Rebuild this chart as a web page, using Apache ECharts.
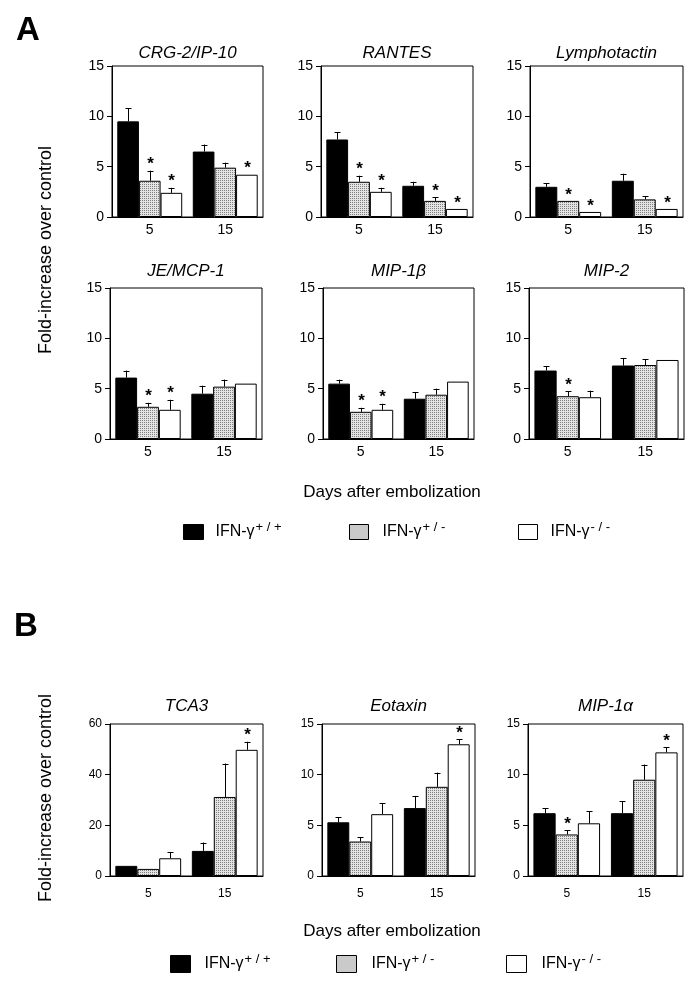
<!DOCTYPE html>
<html>
<head>
<meta charset="utf-8">
<script src="https://cdn.jsdelivr.net/npm/echarts@6/dist/echarts.min.js"></script>
<style>
html,body{margin:0;padding:0;background:#fff;}
#c{width:698px;height:988px;}
</style>
</head>
<body>
<div id="c"></div>
<script>
// ---------------- data ----------------
const days = ['5', '15'];
const genotypes = ['IFN-γ+/+', 'IFN-γ+/-', 'IFN-γ-/-'];
const titles = ['CRG-2/IP-10', 'RANTES', 'Lymphotactin', 'JE/MCP-1', 'MIP-1β', 'MIP-2', 'TCA3', 'Eotaxin', 'MIP-1α'];
const yTicksA = [0, 5, 10, 15];
const yTicksTCA3 = [0, 20, 40, 60];

// means: [genotype][day]
const crgMean   = [[9.5, 6.5], [3.6, 4.9], [2.4, 4.2]];
const crgErr    = [[1.3, 0.7], [1.0, 0.5], [0.5, 0]];
const crgStar   = [[0, 0], [1, 0], [1, 1]];

const rantesMean = [[7.7, 3.1], [3.5, 1.6], [2.5, 0.8]];
const rantesErr  = [[0.7, 0.4], [0.6, 0.35], [0.4, 0]];
const rantesStar = [[0, 0], [1, 1], [1, 1]];

const lymphoMean = [[3.0, 3.6], [1.6, 1.75], [0.5, 0.8]];
const lymphoErr  = [[0.35, 0.7], [0, 0.3], [0, 0]];
const lymphoStar = [[0, 0], [1, 0], [1, 1]];

const jeMean = [[6.1, 4.5], [3.2, 5.2], [2.9, 5.5]];
const jeErr  = [[0.7, 0.8], [0.4, 0.7], [1.0, 0]];
const jeStar = [[0, 0], [1, 0], [1, 0]];

const mip1bMean = [[5.5, 4.0], [2.7, 4.4], [2.9, 5.7]];
const mip1bErr  = [[0.4, 0.65], [0.4, 0.6], [0.6, 0]];
const mip1bStar = [[0, 0], [1, 0], [1, 0]];

const mip2Mean = [[6.8, 7.3], [4.25, 7.35], [4.15, 7.85]];
const mip2Err  = [[0.45, 0.75], [0.5, 0.55], [0.65, 0]];
const mip2Star = [[0, 0], [1, 0], [0, 0]];

const tca3Mean = [[4.0, 9.9], [2.8, 31.2], [7.0, 49.8]];
const tca3Err  = [[0, 3.3], [0, 13.2], [2.3, 3.2]];
const tca3Star = [[0, 0], [0, 0], [0, 1]];

const eotaxinMean = [[5.3, 6.7], [3.4, 8.8], [6.1, 13.0]];
const eotaxinErr  = [[0.5, 1.2], [0.45, 1.4], [1.1, 0.5]];
const eotaxinStar = [[0, 0], [0, 0], [0, 1]];

const mip1aMean = [[6.2, 6.2], [4.1, 9.5], [5.2, 12.2]];
const mip1aErr  = [[0.5, 1.2], [0.4, 1.5], [1.2, 0.5]];
const mip1aStar = [[0, 0], [1, 0], [0, 1]];

const panelMeans = [crgMean, rantesMean, lymphoMean, jeMean, mip1bMean, mip2Mean, tca3Mean, eotaxinMean, mip1aMean];
const panelErrs  = [crgErr, rantesErr, lymphoErr, jeErr, mip1bErr, mip2Err, tca3Err, eotaxinErr, mip1aErr];
const panelStars = [crgStar, rantesStar, lymphoStar, jeStar, mip1bStar, mip2Star, tca3Star, eotaxinStar, mip1aStar];

// ---------------- layout ----------------
const FONT = '"Liberation Sans", Arial, Helvetica, sans-serif';
const gridBoxes = [
  [112, 66, 151, 151], [321, 66, 152, 151], [530, 66, 153, 151],
  [110, 288, 152, 151], [323, 288, 151, 151], [529, 288, 155, 151],
  [110, 724, 153, 152], [322, 724, 153, 152], [528, 724, 155, 152]
];
const titleY = [53, 53, 53, 271, 271, 271, 706, 706, 706];
const CAT_GAP = 0.14;

// stipple pattern
const pc = document.createElement('canvas');
pc.width = 2; pc.height = 2;
const pctx = pc.getContext('2d');
pctx.fillStyle = '#e3e3e3'; pctx.fillRect(0, 0, 2, 2);
pctx.fillStyle = '#808080'; pctx.fillRect(0, 0, 1, 1);
const stipple = { image: pc, repeat: 'repeat' };
const fills = ['#000000', stipple, '#ffffff'];

const grids = [], xAxes = [], yAxes = [], series = [], graphics = [];

gridBoxes.forEach((b, i) => {
  const isB = i >= 6;
  const fs = isB ? 12 : 14;
  grids.push({ left: b[0], top: b[1], width: b[2], height: b[3], show: true, borderColor: '#000', borderWidth: 1, backgroundColor: 'transparent' });
  xAxes.push({
    type: 'category', gridIndex: i, data: days,
    axisLine: { lineStyle: { color: '#000', width: 1 } },
    axisTick: { show: false },
    axisLabel: { color: '#000', fontSize: fs, fontFamily: FONT, margin: isB ? 12 : 6 }
  });
  const tick = (i === 6) ? yTicksTCA3 : yTicksA;
  yAxes.push({
    type: 'value', gridIndex: i, min: tick[0], max: tick[tick.length - 1], interval: tick[1] - tick[0],
    axisLine: { show: true, lineStyle: { color: '#000', width: 1 } },
    axisTick: { show: true, inside: false, length: 5, lineStyle: { color: '#000' } },
    splitLine: { show: false },
    axisLabel: { color: '#000', fontSize: fs, fontFamily: FONT, margin: 8 }
  });
  const means = panelMeans[i], errs = panelErrs[i], stars = panelStars[i];
  genotypes.forEach((g, gi) => {
    series.push({
      type: 'bar', name: g, xAxisIndex: i, yAxisIndex: i,
      data: means[gi],
      barGap: '0%', barCategoryGap: (CAT_GAP * 100) + '%',
      itemStyle: { color: fills[gi], borderColor: '#000', borderWidth: 1 },
      silent: true, animation: false
    });
  });
  const eData = [];
  genotypes.forEach((g, gi) => {
    days.forEach((d, di) => {
      eData.push([di, means[gi][di], errs[gi][di], gi, stars[gi][di]]);
    });
  });
  series.push({
    type: 'custom', xAxisIndex: i, yAxisIndex: i, data: eData, z: 5, clip: false, animation: false, silent: true,
    renderItem: function (params, api) {
      const d = api.value(0), m = api.value(1), e = api.value(2), gi = api.value(3), s = api.value(4);
      const band = api.size([1, 0])[0];
      const bw = band * (1 - CAT_GAP) / 3;
      const base = api.coord([d, m]);
      const x = Math.round(base[0] + (gi - 1) * bw) + 0.5;
      const top = api.coord([d, m + e])[1];
      const ch = [];
      if (e > 0) {
        ch.push({ type: 'line', shape: { x1: x, y1: base[1], x2: x, y2: top }, style: { stroke: '#000', lineWidth: 1 } });
        ch.push({ type: 'line', shape: { x1: x - 3, y1: Math.round(top) + 0.5, x2: x + 3, y2: Math.round(top) + 0.5 }, style: { stroke: '#000', lineWidth: 1 } });
      }
      if (s) {
        ch.push({ type: 'text', x: x, y: top - 6, style: { text: '*', font: 'bold 17px ' + FONT, align: 'center', verticalAlign: 'middle', fill: '#000' } });
      }
      return { type: 'group', children: ch };
    }
  });
  graphics.push({
    type: 'text', x: b[0] + b[2] / 2, y: titleY[i],
    style: { text: titles[i], font: 'italic 17px ' + FONT, fill: '#000', align: 'center', verticalAlign: 'middle' }
  });
});

// panel letters, axis names
graphics.push({ type: 'text', x: 28, y: 31, style: { text: 'A', font: 'bold 33px ' + FONT, fill: '#000', align: 'center', verticalAlign: 'middle' } });
graphics.push({ type: 'text', x: 26, y: 627, style: { text: 'B', font: 'bold 33px ' + FONT, fill: '#000', align: 'center', verticalAlign: 'middle' } });
[[46, 250], [46, 798]].forEach(p => {
  graphics.push({ type: 'text', x: p[0], y: p[1], rotation: Math.PI / 2,
    style: { text: 'Fold-increase over control', font: '18px ' + FONT, fill: '#000', align: 'center', verticalAlign: 'middle' } });
});
[[392, 492], [392, 931]].forEach(p => {
  graphics.push({ type: 'text', x: p[0], y: p[1],
    style: { text: 'Days after embolization', font: '17px ' + FONT, fill: '#000', align: 'center', verticalAlign: 'middle' } });
});

// legends
const supers = ['+/+', '+/-', '-/-'];
function legendFor(name, idx, left, top, w, h, gap) {
  return {
    data: [name], left: left, top: top, padding: 0, icon: 'rect', itemWidth: w, itemHeight: h,
    selectedMode: false,
    itemStyle: { borderColor: '#000', borderWidth: 1 },
    formatter: () => '{m|IFN-γ}{s|' + supers[idx].split('').join(' ') + '}',
    textStyle: {
      rich: {
        m: { fontSize: 16, fontFamily: FONT, color: '#000', lineHeight: 22, padding: [0, 0, 0, gap] },
        s: { fontSize: 13, fontFamily: FONT, color: '#000', lineHeight: 13, verticalAlign: 'top', padding: [0, 0, 0, 1] }
      }
    }
  };
}
const legends = [
  legendFor(genotypes[0], 0, 183, 521, 20, 15, 7),
  legendFor(genotypes[1], 1, 349, 521, 19, 15, 9),
  legendFor(genotypes[2], 2, 518, 521, 19, 15, 8),
  legendFor(genotypes[0], 0, 170, 953, 20, 17, 9),
  legendFor(genotypes[1], 1, 336, 953, 20, 17, 10),
  legendFor(genotypes[2], 2, 506, 953, 20, 17, 10)
];

const chart = echarts.init(document.getElementById('c'), null, { renderer: 'canvas' });
chart.setOption({
  animation: false,
  backgroundColor: '#fff',
  textStyle: { fontFamily: FONT },
  grid: grids, xAxis: xAxes, yAxis: yAxes, series: series,
  legend: legends,
  graphic: graphics
});
</script>
</body>
</html>
